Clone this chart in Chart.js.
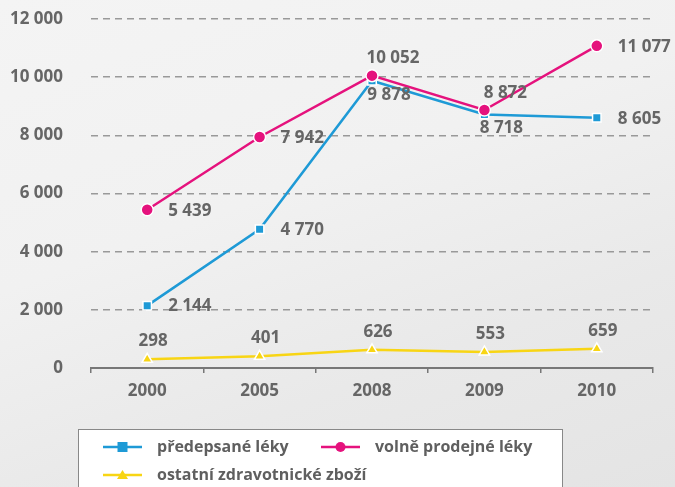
<!DOCTYPE html>
<html>
<head>
<meta charset="utf-8">
<script src="https://cdn.jsdelivr.net/npm/chart.js@4.4.1/dist/chart.umd.min.js"></script>
<style>
  html, body { margin: 0; padding: 0; }
  body {
    width: 675px; height: 487px; overflow: hidden;
    background: linear-gradient(160deg, #f4f4f4 0%, #f1f1f1 40%, #e9e9e9 70%, #e4e4e4 100%);
  }
  canvas { display: block; }
</style>
</head>
<body>
<canvas id="myChart" width="675" height="487"></canvas>
<script>
// data
const years = ["2000", "2005", "2008", "2009", "2010"];
const predepsane = [2144, 4770, 9878, 8718, 8605];
const volne = [5439, 7942, 10052, 8872, 11077];
const ostatni = [298, 401, 626, 553, 659];
const seriesNames = ["předepsané léky", "volně prodejné léky", "ostatní zdravotnické zboží"];
const yTicks = [0, 2000, 4000, 6000, 8000, 10000, 12000];

// label placement per point
const bluePos = ["right", "right", "below", "below", "right"];
const pinkPos = ["right", "right", "above", "above", "right"];
const yellowPos = ["top", "top", "top", "top", "top"];

const FONT = "'Open Sans', 'DejaVu Sans', sans-serif";
const TEXT = "#666666";

function fmt(v) {
  return String(v).replace(/\B(?=(\d{3})+(?!\d))/g, " ");
}

function drawMarker(c, style, x, y, col) {
  c.save();
  c.fillStyle = col;
  c.strokeStyle = "#ffffff";
  c.lineWidth = 1;
  c.beginPath();
  if (style === "rect") {
    c.rect(x - 5, y - 5, 10, 10);
  } else if (style === "circle") {
    c.arc(x, y, 5, 0, Math.PI * 2);
  } else {
    c.moveTo(x, y - 5);
    c.lineTo(x + 5.5, y + 4);
    c.lineTo(x - 5.5, y + 4);
    c.closePath();
  }
  c.fill();
  c.restore();
}

// value labels next to points
const valueLabels = {
  id: "valueLabels",
  afterDatasetsDraw(chart) {
    const c = chart.ctx;
    c.save();
    c.font = "bold 17px " + FONT;
    c.fillStyle = TEXT;
    c.textBaseline = "middle";
    chart.data.datasets.forEach((ds, i) => {
      const meta = chart.getDatasetMeta(i);
      meta.data.forEach((pt, j) => {
        const pos = ds.labelPos[j];
        const t = fmt(ds.data[j]);
        if (pos === "right") {
          c.textAlign = "left";
          c.fillText(t, pt.x + 21, pt.y + 1);
        } else if (pos === "below") {
          c.textAlign = "center";
          c.fillText(t, pt.x + 17, pt.y + 14);
        } else if (pos === "above") {
          c.textAlign = "center";
          c.fillText(t, pt.x + 21, pt.y - 17);
        } else {
          c.textAlign = "center";
          c.fillText(t, pt.x + 6, pt.y - 18);
        }
      });
    });
    c.restore();
  },
};

// legend box at the bottom
const boxLegend = {
  id: "boxLegend",
  afterDraw(chart) {
    const c = chart.ctx;
    c.save();
    c.fillStyle = "#ffffff";
    c.fillRect(78, 429, 484, 70);
    c.strokeStyle = "#888888";
    c.lineWidth = 1;
    c.strokeRect(78.5, 429.5, 484, 70);
    const items = [
      { x: 103, y: 447 },
      { x: 321, y: 447 },
      { x: 103, y: 475 },
    ];
    c.font = "bold 16px " + FONT;
    c.textBaseline = "middle";
    c.textAlign = "left";
    chart.data.datasets.forEach((ds, i) => {
      const it = items[i];
      c.strokeStyle = ds.borderColor;
      c.lineWidth = 2.5;
      c.beginPath();
      c.moveTo(it.x, it.y);
      c.lineTo(it.x + 39, it.y);
      c.stroke();
      drawMarker(c, ds.pointStyle, it.x + 19.5, it.y, ds.backgroundColor);
      c.fillStyle = "#5f5f5f";
      c.fillText(ds.label, it.x + 54, it.y);
    });
    c.restore();
  },
};

const ctx = document.getElementById("myChart");
const myChart = new Chart(ctx, {
  type: "line",
  data: {
    labels: years,
    datasets: [
      {
        label: seriesNames[0],
        data: predepsane,
        labelPos: bluePos,
        borderColor: "#1e9ad6",
        backgroundColor: "#1e9ad6",
        pointStyle: "rect",
        pointRadius: 6,
        pointBorderColor: "#ffffff",
        pointBorderWidth: 1.5,
        borderWidth: 2.5,
        order: 2,
      },
      {
        label: seriesNames[1],
        data: volne,
        labelPos: pinkPos,
        borderColor: "#e5127d",
        backgroundColor: "#e5127d",
        pointStyle: "circle",
        pointRadius: 6,
        pointBorderColor: "#ffffff",
        pointBorderWidth: 1.5,
        borderWidth: 2.5,
        order: 1,
      },
      {
        label: seriesNames[2],
        data: ostatni,
        labelPos: yellowPos,
        borderColor: "#f8d514",
        backgroundColor: "#f8d514",
        pointStyle: "triangle",
        pointRadius: 6,
        pointBorderColor: "#ffffff",
        pointBorderWidth: 1.5,
        borderWidth: 2.5,
        order: 3,
      },
    ],
  },
  options: {
    responsive: false,
    animation: false,
    devicePixelRatio: 1,
    layout: { padding: { top: 19, right: 22, bottom: 0, left: 0 } },
    plugins: {
      legend: { display: false },
      tooltip: { enabled: false },
    },
    scales: {
      x: {
        offset: true,
        grid: {
          offset: true,
          drawOnChartArea: false,
          drawTicks: true,
          tickLength: 5,
          color: "#777777",
          lineWidth: 1.5,
        },
        border: { display: true, color: "#777777", width: 2 },
        ticks: {
          color: TEXT,
          font: { family: FONT, size: 17, weight: "bold" },
          padding: 8,
          maxRotation: 0,
        },
        afterFit(scale) { scale.height = 119; },
      },
      y: {
        min: 0,
        max: 12000,
        afterBuildTicks(scale) { scale.ticks = yTicks.map((v) => ({ value: v })); },
        grid: {
          drawTicks: false,
          color: (c) => (c.tick && c.tick.value === 0 ? "rgba(0,0,0,0)" : "#999999"),
          lineWidth: 1.5,
        },
        border: { display: false, dash: [7, 5] },
        ticks: {
          color: TEXT,
          font: { family: FONT, size: 17, weight: "bold" },
          padding: 28,
          callback: (v) => fmt(v),
        },
        afterFit(scale) {
          scale.width = 91;
          scale.paddingTop = 0;
          scale.paddingBottom = 0;
        },
      },
    },
  },
  plugins: [valueLabels, boxLegend],
});
</script>
</body>
</html>
